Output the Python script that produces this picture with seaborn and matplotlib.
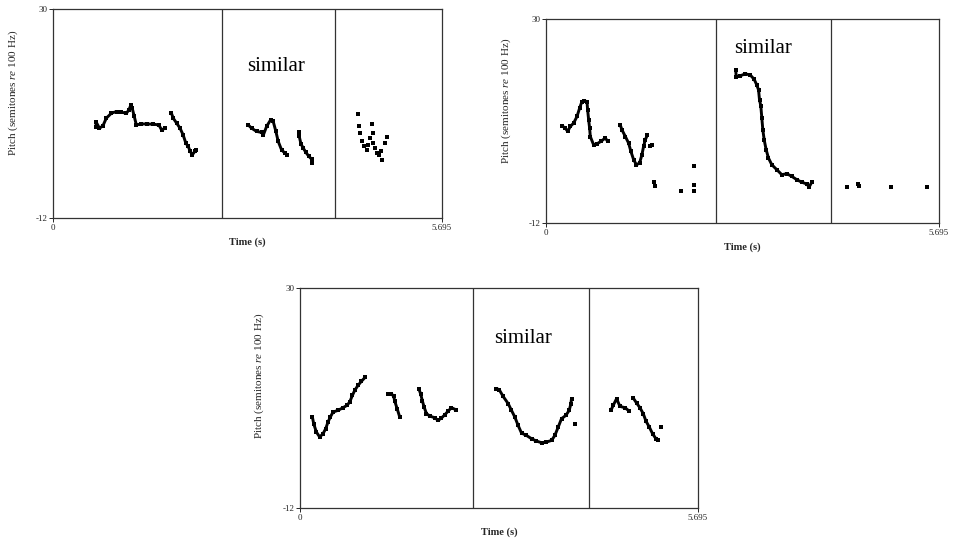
import matplotlib
matplotlib.use("Agg")
import matplotlib.pyplot as plt
import numpy as np
import pandas as pd
import seaborn as sns

# axis range (s, semitones re 100 Hz)
t_max = 5.695
y_min, y_max = -12, 30
boundaries = [2.47, 4.13]
label_text = "similar"

# seg = 0 -> loose point (no connecting line)
p1_time = [0.625, 0.635, 0.68, 0.73, 0.78, 0.855, 0.93, 1.0, 1.075, 1.11, 1.14, 1.16, 1.19, 1.22,
           1.29, 1.37, 1.47, 1.55, 1.59, 1.64,
           1.734, 1.76, 1.81, 1.86, 1.905, 1.945, 1.98, 2.01, 2.04, 2.076, 2.1,
           2.858, 2.907, 2.98, 3.053, 3.08, 3.127, 3.185, 3.224, 3.263, 3.297, 3.346, 3.395, 3.43,
           3.6, 3.605, 3.63, 3.664, 3.703, 3.747, 3.786, 3.796,
           4.47, 4.485, 4.494, 4.52, 4.553, 4.59, 4.617, 4.64, 4.665, 4.68, 4.69, 4.714, 4.74,
           4.778, 4.8, 4.81, 4.86, 4.885]
p1_pitch = [6.25, 7.2, 6.05, 6.5, 8.06, 9.06, 9.4, 9.26, 9.06, 9.7, 10.7, 10.05, 8.4, 6.7,
            6.9, 6.9, 6.85, 6.7, 5.7, 6.05,
            9.06, 8.06, 7.06, 6.05, 4.7, 3.04, 2.37, 1.37, 0.7, 1.37, 1.7,
            6.7, 6.05, 5.4, 5.2, 4.7, 6.4, 7.7, 7.4, 5.4, 3.4, 1.7, 1.04, 0.7,
            5.2, 4.4, 2.9, 2.04, 1.17, 0.37, -0.17, -0.97,
            8.86, 6.4, 5.05, 3.4, 2.37, 1.7, 2.7, 4.05, 6.86, 5.05, 3.04, 2.04, 1.04,
            0.7, 1.37, -0.3, 3.04, 4.25]
p1_seg = [1] * 20 + [2] * 11 + [3] * 13 + [4] * 8 + [0] * 18

p2_time = [0.232, 0.28, 0.314, 0.352, 0.4, 0.449, 0.487, 0.52, 0.555, 0.594, 0.603, 0.618, 0.632,
           0.642, 0.69, 0.738, 0.796, 0.86, 0.893,
           1.076, 1.1, 1.15, 1.197, 1.23, 1.27, 1.31, 1.356, 1.39, 1.414, 1.438, 1.47,
           1.51, 1.535,
           1.56, 1.573, 1.96, 2.14, 2.148, 2.15,
           2.75, 2.756, 2.814, 2.886, 2.958, 3.016, 3.055, 3.08, 3.094, 3.113, 3.127, 3.142, 3.162,
           3.19, 3.224, 3.272, 3.345, 3.417, 3.49, 3.562, 3.634, 3.706, 3.779, 3.813, 3.851,
           4.358, 4.527, 4.537, 4.995, 5.526]
p2_pitch = [8.0, 7.53, 6.85, 7.88, 8.56, 9.93, 11.64, 13.0, 13.15, 13.0, 11.3, 9.25, 7.53,
            5.8, 4.1, 4.3, 4.8, 5.5, 4.8,
            8.2, 7.2, 5.8, 4.45, 2.74, 1.03, 0.0, 0.34, 2.05, 3.77, 5.1, 6.16,
            3.77, 4.1,
            -3.6, -4.45, -5.34, -0.2, -4.1, -5.5,
            19.4, 18.15, 18.3, 18.7, 18.5, 17.6, 16.4, 15.4, 13.36, 12.1, 9.7, 7.2, 5.1,
            3.1, 1.37, 0.0, -1.03, -2.05, -1.85, -2.4, -3.08, -3.6, -3.97, -4.6, -3.6,
            -4.6, -3.9, -4.45, -4.6, -4.6]
p2_seg = [1] * 19 + [2] * 12 + [0] * 2 + [0] * 6 + [3] * 25 + [0] * 5

p3_time = [0.177, 0.196, 0.234, 0.282, 0.329, 0.368, 0.4, 0.434, 0.473, 0.544, 0.616, 0.673, 0.711,
           0.75, 0.783, 0.83, 0.878, 0.936,
           1.26, 1.308, 1.341, 1.356, 1.39, 1.427,
           1.7, 1.728, 1.752, 1.776, 1.81, 1.866, 1.928, 1.976, 2.024, 2.072, 2.12, 2.167, 2.23,
           2.81, 2.85, 2.907, 2.98, 3.026, 3.074, 3.12, 3.17, 3.24, 3.313, 3.384, 3.456, 3.527,
           3.6, 3.647, 3.695, 3.742, 3.804, 3.852, 3.876, 3.885,
           3.933,
           4.449, 4.482, 4.53, 4.578, 4.65, 4.711,
           4.768, 4.816, 4.864, 4.912, 4.95, 4.998, 5.045, 5.093, 5.126,
           5.16]
p3_pitch = [5.37, 4.1, 2.5, 1.55, 2.18, 3.14, 4.4, 5.37, 6.32, 6.64, 7.15, 7.6, 8.23,
            9.5, 10.46, 11.4, 12.18, 13.0,
            9.7, 9.82, 9.3, 8.4, 6.96, 5.37,
            10.8, 9.7, 8.4, 7.27, 6.0, 5.5, 5.24, 4.73, 5.17, 5.8, 6.5, 7.15, 6.77,
            10.8, 10.6, 9.3, 7.9, 6.64, 5.37, 3.8, 2.3, 1.86, 1.23, 0.78, 0.46, 0.6,
            0.9, 1.86, 3.46, 5.05, 5.68, 6.64, 7.9, 8.87,
            4.1,
            6.64, 7.6, 8.87, 7.4, 7.15, 6.5,
            9.0, 8.04, 7.15, 6.0, 4.6, 3.46, 2.18, 1.23, 0.9,
            3.46]
p3_seg = [1] * 18 + [2] * 6 + [3] * 13 + [4] * 21 + [0] + [5] * 6 + [6] * 9 + [0]

label_pos = [(3.26, 18.4), (3.15, 23.9), (3.19, 20.3)]

sns.set_style("white")
plt.rcParams["font.family"] = ["Liberation Serif", "DejaVu Serif"]
plt.rcParams["mathtext.fontset"] = "custom"
plt.rcParams["mathtext.it"] = "Liberation Serif:italic"
plt.rcParams["mathtext.rm"] = "Liberation Serif"

fig = plt.figure(figsize=(9.55, 5.41), dpi=100)
rects = [
    [53 / 955, 1 - 218 / 541, 389 / 955, 209 / 541],
    [546 / 955, 1 - 223 / 541, 393 / 955, 204 / 541],
    [300 / 955, 1 - 508 / 541, 398 / 955, 220 / 541],
]
panels = [(p1_time, p1_pitch, p1_seg), (p2_time, p2_pitch, p2_seg), (p3_time, p3_pitch, p3_seg)]

for rect, (tt, pp, ss), (lx, ly) in zip(rects, panels, label_pos):
    ax = fig.add_axes(rect)
    df = pd.DataFrame({"time": tt, "pitch": pp, "seg": ss})
    traces = df[df["seg"] > 0]
    sns.lineplot(data=traces, x="time", y="pitch", units="seg", estimator=None, sort=False,
                 color="black", lw=2.1, ax=ax)
    sns.scatterplot(data=df, x="time", y="pitch", color="black", marker="s", s=5,
                    linewidth=0, ax=ax)
    for b in boundaries:
        ax.axvline(b, color="#333333", lw=0.9)
    ax.text(lx, ly, label_text, ha="center", va="center", fontsize=15, color="black")

    ax.set_xlim(0, t_max)
    ax.set_ylim(y_min, y_max)
    ax.set_xticks([0, t_max])
    ax.set_xticklabels(["0", "5.695"])
    ax.set_yticks([y_min, y_max])
    ax.set_yticklabels(["-12", "30"])
    ax.tick_params(axis="both", direction="out", length=3, width=0.7, labelsize=6.5, pad=1,
                   left=True, bottom=True)
    ax.set_xlabel("Time (s)", fontsize=7.5, fontweight="bold", labelpad=4)
    ax.set_ylabel("Pitch (semitones $\\it{re}$ 100 Hz)", fontsize=8)
    ax.yaxis.set_label_coords(-0.085, 0.6)
    for sp in ax.spines.values():
        sp.set_color("#333333")
        sp.set_linewidth(0.9)

fig.savefig("out.png", dpi=100)
